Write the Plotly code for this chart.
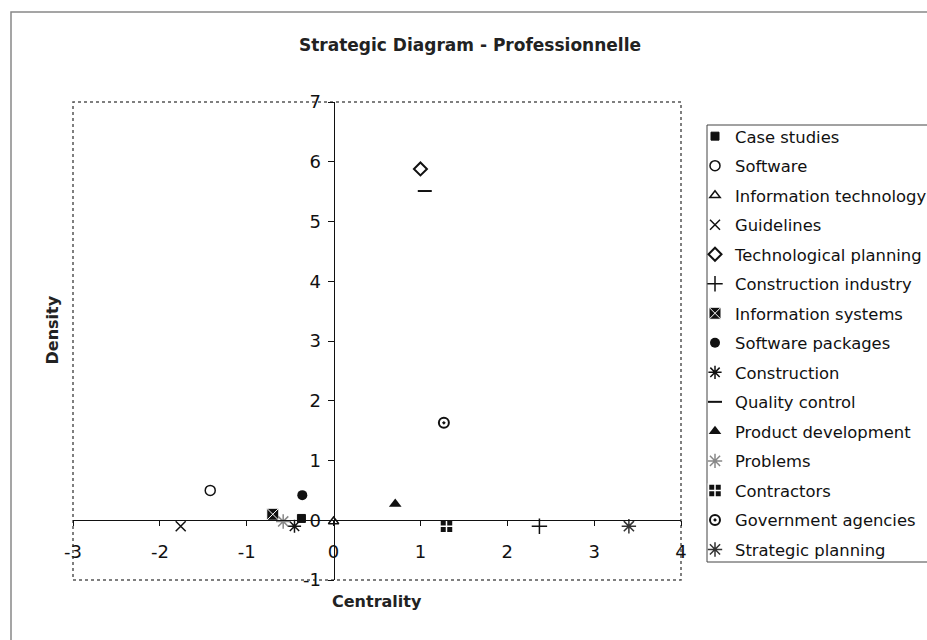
import plotly.graph_objects as go

# ---- data ----
names = ["Case studies", "Software", "Information technology", "Guidelines",
         "Technological planning", "Construction industry", "Information systems",
         "Software packages", "Construction", "Quality control", "Product development",
         "Problems", "Contractors", "Government agencies", "Strategic planning"]
centrality = [-0.37, -1.42, 0.00, -1.76, 1.00, 2.37, -0.70, -0.36, -0.45, 1.05, 0.71, -0.58, 1.30, 1.27, 3.40]
density = [0.03, 0.50, -0.02, -0.10, 5.88, -0.10, 0.10, 0.42, -0.10, 5.51, 0.27, -0.02, -0.10, 1.63, -0.10]

x_ticks = [-3, -2, -1, 0, 1, 2, 3, 4]
x_ticklabels = ["-3", "-2", "-1", "0", "1", "2", "3", "4"]
y_ticks = [-1, 0, 1, 2, 3, 4, 5, 6, 7]
y_ticklabels = ["-1", "0", "1", "2", "3", "4", "5", "6", "7"]

# ---- styles ----
styles = [
    dict(symbol="square", size=8, color="#111", line=dict(color="#111", width=1)),
    dict(symbol="circle-open", size=10, color="#111", line=dict(width=1.5)),
    dict(symbol="triangle-up-open", size=9, color="#111", line=dict(width=1.5)),
    dict(symbol="x-thin-open", size=10, color="#111", line=dict(width=1.5)),
    dict(symbol="diamond-open", size=10, color="#111", line=dict(width=2)),
    dict(symbol="cross-thin-open", size=11, color="#111", line=dict(width=1.5)),
    dict(symbol="square-x", size=12, color="#111", line=dict(color="white", width=1)),
    dict(symbol="circle", size=10, color="#111", line=dict(width=0)),
    dict(symbol="asterisk-open", size=11, color="#111", line=dict(width=1.5)),
    dict(symbol="line-ew-open", size=10, color="#111", line=dict(width=2)),
    dict(symbol="triangle-up", size=11, color="#111", line=dict(width=0)),
    dict(symbol="asterisk-open", size=12, color="#888", line=dict(width=1.5)),
    dict(symbol="square-cross", size=13, color="#111", line=dict(color="white", width=1.5)),
    dict(symbol="circle-open-dot", size=10, color="#111", line=dict(width=2)),
    dict(symbol="asterisk-open", size=12, color="#333", line=dict(width=1.5)),
]

fig = go.Figure()
for i, (n, x, y, st) in enumerate(zip(names, centrality, density, styles)):
    line = dict(color=st["line"].get("color", st["color"]), width=st["line"]["width"])
    fig.add_trace(go.Scatter(
        x=[x], y=[y], mode="markers", name=n, legendgroup=f"g{i}",
        marker=dict(symbol=st["symbol"], size=st["size"], color=st["color"], line=line),
    ))

L, R, T, B = 73, 246, 102, 60
W, H = 927, 640
pw, ph = W - L - R, H - T - B

def px_x(p):
    return (p - L) / pw

def px_y(p):
    return (H - B - p) / ph

tickfont = dict(family="DejaVu Sans", size=18, color="#111")

fig.update_layout(
    width=W, height=H,
    margin=dict(l=L, r=R, t=T, b=B, pad=0, autoexpand=False),
    paper_bgcolor="white", plot_bgcolor="white",
    font=dict(family="DejaVu Sans", color="#111"),
    title=dict(text="<b>Strategic Diagram - Professionnelle</b>",
               font=dict(family="DejaVu Sans", size=17, color="#222"),
               xref="paper", x=px_x(470), xanchor="center",
               yref="container", y=1 - 45 / H, yanchor="middle"),
    xaxis=dict(range=[-3, 4], tickvals=x_ticks, ticktext=x_ticklabels,
               showgrid=False, zeroline=False, showline=True, linecolor="#111", linewidth=1,
               ticks="outside", ticklen=5, tickcolor="#111", tickfont=tickfont,
               anchor="free", position=1 / 8, ticklabelstandoff=10),
    yaxis=dict(range=[-1, 7], tickvals=y_ticks, ticktext=y_ticklabels,
               showgrid=False, zeroline=False, showline=True, linecolor="#111", linewidth=1,
               ticks="outside", ticklen=6, tickcolor="#111", tickfont=tickfont,
               anchor="free", position=3 / 7, ticklabelstandoff=3),
    legend=dict(x=px_x(695), xanchor="left", y=px_y(119), yanchor="top",
                font=dict(family="DejaVu Sans", size=16.4, color="#111"),
                bgcolor="rgba(0,0,0,0)", borderwidth=0, tracegroupgap=5.2),
    showlegend=True,
)

# dotted plot-area border
fig.add_shape(type="rect", xref="paper", yref="paper", x0=0, x1=1, y0=0, y1=1,
              line=dict(color="#555", width=1.5, dash="dot"), layer="below")
# legend box
fig.add_shape(type="rect", xref="paper", yref="paper",
              x0=px_x(707), x1=px_x(935), y0=px_y(562), y1=px_y(125),
              line=dict(color="#444", width=1))
# outer chart frame
fig.add_shape(type="rect", xref="paper", yref="paper",
              x0=px_x(11), x1=px_x(940), y0=px_y(650), y1=px_y(12),
              line=dict(color="#888", width=1.5))

# axis titles
fig.add_annotation(text="<b>Centrality</b>", xref="paper", yref="paper",
                   x=px_x(377), y=px_y(613), showarrow=False,
                   font=dict(family="DejaVu Sans", size=16, color="#222"))
fig.add_annotation(text="<b>Density</b>", xref="paper", yref="paper",
                   x=px_x(40), y=px_y(330), showarrow=False, textangle=-90,
                   font=dict(family="DejaVu Sans", size=16, color="#222"))

fig.write_html("out.html", config={"displayModeBar": False},
               post_script="document.body.style.margin='0';")
